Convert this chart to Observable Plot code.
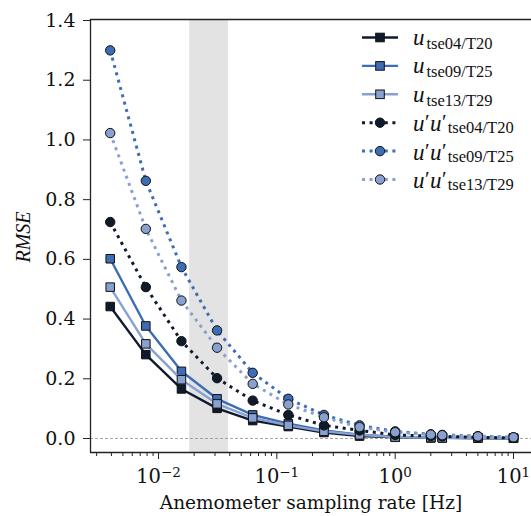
<!DOCTYPE html>
<html><head><meta charset="utf-8">
<script src="https://cdn.jsdelivr.net/npm/d3@7"></script>
<script src="https://cdn.jsdelivr.net/npm/@observablehq/plot@0.6"></script>
<style>body{margin:0;background:#fff}#chart{width:531px;height:516px}</style>
</head><body><div id="chart"></div>
<script>
// ---- data ----
const rates = [1/256, 1/128, 1/64, 1/32, 1/16, 1/8, 1/4, 1/2, 1, 2, 2.5, 5, 10];
const u_tse04  = [0.442, 0.281, 0.166, 0.101, 0.060, 0.040, 0.020, 0.008, 0.004, 0.002, 0.002, 0.001, 0.001];
const u_tse09  = [0.602, 0.377, 0.225, 0.133, 0.079, 0.050, 0.027, 0.013, 0.006, 0.003, 0.003, 0.002, 0.001];
const u_tse13  = [0.507, 0.317, 0.197, 0.116, 0.069, 0.044, 0.024, 0.012, 0.005, 0.003, 0.002, 0.002, 0.001];
const uu_tse04 = [0.725, 0.507, 0.326, 0.202, 0.127, 0.079, 0.044, 0.027, 0.012, 0.008, 0.007, 0.004, 0.002];
const uu_tse09 = [1.300, 0.863, 0.574, 0.362, 0.220, 0.133, 0.079, 0.044, 0.024, 0.014, 0.012, 0.008, 0.004];
const uu_tse13 = [1.023, 0.702, 0.462, 0.304, 0.183, 0.114, 0.071, 0.038, 0.021, 0.013, 0.011, 0.007, 0.004];
const shadeBand = [0.0183, 0.039];
const yTicks = [0, 0.2, 0.4, 0.6, 0.8, 1.0, 1.2, 1.4];
const xMajorTicks = [0.01, 0.1, 1, 10];
const xMajorExponents = ["−2", "−1", "0", "1"];
const seriesNames = ["tse04/T20", "tse09/T25", "tse13/T29"];

// ---- styling ----
const C = ["#0f1b2d", "#3d6db4", "#88a1d0"];
const xDomain = [0.002662, 14.19];
const yDomain = [-0.0469, 1.4034];
const serif = "'DejaVu Serif', serif";
const lserif = "'Liberation Serif', serif";

const series = [
  {vals: u_tse04, color: C[0], dotted: false, sub: seriesNames[0]},
  {vals: u_tse09, color: C[1], dotted: false, sub: seriesNames[1]},
  {vals: u_tse13, color: C[2], dotted: false, sub: seriesNames[2]},
  {vals: uu_tse04, color: C[0], dotted: true, sub: seriesNames[0]},
  {vals: uu_tse09, color: C[1], dotted: true, sub: seriesNames[1]},
  {vals: uu_tse13, color: C[2], dotted: true, sub: seriesNames[2]}
];

const minorTicks = [];
for (let e = -3; e <= 1; e++) for (let m = 2; m <= 9; m++) {
  const v = m * Math.pow(10, e);
  if (v >= xDomain[0] && v <= xDomain[1]) minorTicks.push(v);
}
const expOf = d => xMajorExponents[xMajorTicks.findIndex(t => Math.abs(t - d) < t * 1e-6)] ?? "";

const marks = [
  Plot.rect([shadeBand], {x1: d => d[0], x2: d => d[1], y1: () => yDomain[0], y2: () => yDomain[1], fill: "#e3e3e3"}),
  Plot.ruleY([0], {stroke: "#9a9a9a", strokeWidth: 0.9, strokeDasharray: "3,2"})
];
for (const s of series) {
  const d = rates.map((r, i) => ({rate: r, rmse: s.vals[i]}));
  marks.push(Plot.line(d, {x: "rate", y: "rmse", stroke: s.color, strokeWidth: s.dotted ? 3 : 2.4,
    strokeDasharray: s.dotted ? "3,4.6" : null, strokeLinecap: "butt"}));
  marks.push(Plot.dot(d, {x: "rate", y: "rmse", symbol: s.dotted ? "circle" : "square",
    r: s.dotted ? 4.7 : 4.8, fill: s.color, stroke: "#111", strokeWidth: 1}));
}
marks.push(
  Plot.ruleX([xDomain[0]], {stroke: "#222", strokeWidth: 1.3}),
  Plot.ruleY([yDomain[0], yDomain[1]], {stroke: "#222", strokeWidth: 1.3}),
  Plot.axisY({ticks: yTicks, tickFormat: d3.format(".1f"), tickSize: 7, tickPadding: 8, label: null, stroke: "#222"}),
  Plot.axisX({ticks: minorTicks, tickFormat: () => "", tickSize: 4, label: null, stroke: "#222"}),
  Plot.axisX({ticks: xMajorTicks, tickFormat: d => "10^" + expOf(d), tickSize: 7, tickPadding: 10, label: null, stroke: "#222"})
);

const svg = Plot.plot({
  width: 531, height: 516,
  marginLeft: 90, marginRight: 0, marginTop: 19, marginBottom: 64,
  x: {type: "log", domain: xDomain, label: null},
  y: {domain: yDomain, label: null},
  style: {fontFamily: serif, fontSize: "19px", color: "#111", background: "#fff", overflow: "visible"},
  marks
});

const root = d3.select(svg);
// x tick labels: turn "10^e" into 10 with a raised exponent
root.selectAll("text").each(function() {
  const el = d3.select(this);
  const txt = el.text();
  if (!txt.startsWith("10^")) return;
  const exp = txt.slice(3);
  el.text("10").attr("font-size", 19.5);
  el.append("tspan").attr("font-size", 13.5).attr("dy", "-0.45em").text(exp);
});

// axis titles
root.append("text").attr("x", 311).attr("y", 509).attr("text-anchor", "middle")
  .attr("font-family", serif).attr("font-size", 18.5).attr("fill", "#111")
  .text("Anemometer sampling rate [Hz]");
root.append("text").attr("transform", "translate(30,237) rotate(-90)").attr("text-anchor", "middle")
  .attr("font-family", lserif).attr("font-style", "italic").attr("font-size", 20).attr("fill", "#111")
  .text("RMSE");

// legend
const lg = root.append("g").attr("font-family", lserif).attr("fill", "#111").attr("text-anchor", "start");
const ly0 = 37.5, ldy = 28.4;
series.forEach((s, i) => {
  const y = ly0 + i * ldy;
  lg.append("line").attr("x1", 362).attr("x2", 398).attr("y1", y).attr("y2", y)
    .attr("stroke", s.color).attr("stroke-width", s.dotted ? 3 : 2.4)
    .attr("stroke-dasharray", s.dotted ? "3,4.6" : null);
  if (s.dotted) {
    lg.append("circle").attr("cx", 380).attr("cy", y).attr("r", 4.7).attr("fill", s.color).attr("stroke", "#111");
  } else {
    lg.append("rect").attr("x", 375.7).attr("y", y - 4.3).attr("width", 8.6).attr("height", 8.6).attr("fill", s.color).attr("stroke", "#111");
  }
  const t = lg.append("text").attr("x", 413).attr("y", y + (s.dotted ? 8.5 : 7.5)).attr("text-anchor", "start");
  if (s.dotted) {
    t.append("tspan").attr("font-style", "italic").attr("font-size", 23).text("u");
    t.append("tspan").attr("font-size", 21).attr("dy", -2).attr("dx", 0.5).text("′");
    t.append("tspan").attr("font-style", "italic").attr("font-size", 23).attr("dy", 2).attr("dx", 0.5).text("u");
    t.append("tspan").attr("font-size", 21).attr("dy", -2).attr("dx", 0.5).text("′");
    t.append("tspan").attr("font-size", 16.5).attr("dy", 4).attr("dx", 1).text(s.sub);
  } else {
    t.append("tspan").attr("font-style", "italic").attr("font-size", 23).text("u");
    t.append("tspan").attr("font-size", 16.5).attr("dy", 4).attr("dx", 2).text(s.sub);
  }
});

document.getElementById("chart").append(svg);
</script></body></html>
